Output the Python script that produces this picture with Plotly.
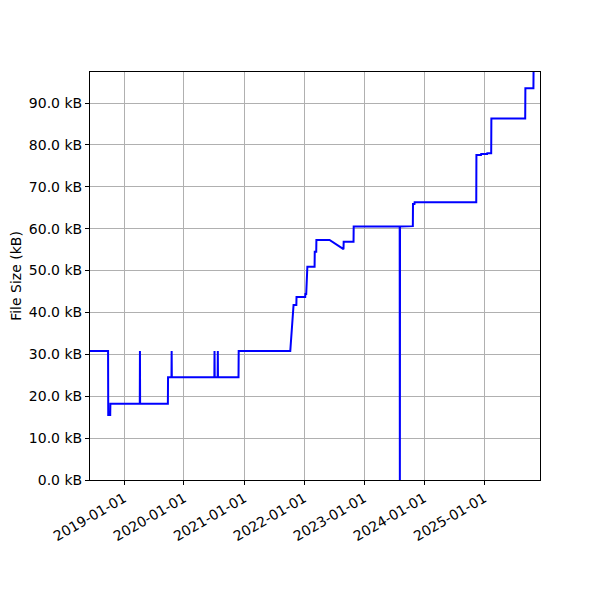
#!/usr/bin/env python3
import plotly.graph_objects as go

# file size history
DATES = [
    "2018-06-08", "2018-09-26", "2018-09-27", "2018-10-09", "2018-10-10",
    "2019-04-07", "2019-04-08", "2019-04-09",
    "2019-09-25", "2019-09-26",
    "2019-10-17", "2019-10-18", "2019-10-19",
    "2020-07-04", "2020-07-05", "2020-07-06",
    "2020-07-24", "2020-07-25", "2020-07-26",
    "2020-11-28", "2020-11-29",
    "2021-10-09", "2021-10-29", "2021-11-15", "2021-11-16",
    "2022-01-08", "2022-01-09", "2022-01-14", "2022-01-20", "2022-01-21",
    "2022-03-06", "2022-03-07", "2022-03-16", "2022-03-17",
    "2022-06-05", "2022-08-25", "2022-08-29", "2022-08-30",
    "2022-10-29", "2022-10-30",
    "2023-08-06", "2023-08-07", "2023-08-08",
    "2023-10-25", "2023-10-26", "2023-11-04", "2023-11-05",
    "2024-11-14", "2024-11-15", "2024-12-13", "2024-12-14",
    "2025-01-19", "2025-01-20", "2025-02-13", "2025-02-14",
    "2025-09-08", "2025-09-09", "2025-10-28", "2025-10-29", "2025-12-07",
]
SIZES_KB = [
    30.8, 30.8, 15.5, 15.5, 18.2,
    18.2, 30.8, 18.2,
    18.2, 24.5,
    24.5, 30.8, 24.5,
    24.5, 30.8, 24.5,
    24.5, 30.8, 24.5,
    24.5, 30.8,
    30.8, 41.8, 41.8, 43.7,
    43.7, 44.4, 44.4, 49.5, 50.9,
    50.9, 54.5, 54.5, 57.3,
    57.3, 55.1, 55.1, 56.9,
    56.9, 60.5,
    60.5, 0.0, 60.5,
    60.6, 65.9, 65.9, 66.3,
    66.3, 77.6, 77.6, 77.8,
    77.8, 78.0, 78.0, 86.3,
    86.3, 93.5, 93.5, 99.0, 99.0,
]

X_TICKS = ["2019-01-01", "2020-01-01", "2021-01-01", "2022-01-01",
           "2023-01-01", "2024-01-01", "2025-01-01"]
Y_TICKS = [0, 10, 20, 30, 40, 50, 60, 70, 80, 90]
Y_TICK_TEXT = [f"{v:.1f} kB" for v in Y_TICKS]

FONT = "DejaVu Sans"
GRID = "#b0b0b0"

fig = go.Figure(
    go.Scatter(
        x=DATES,
        y=SIZES_KB,
        mode="lines",
        line={"color": "#0000ff", "width": 2},
        showlegend=False,
    )
)

axis_common = {
    "showline": True,
    "linecolor": "black",
    "linewidth": 1,
    "mirror": True,
    "ticks": "outside",
    "ticklen": 4,
    "tickcolor": "black",
    "showgrid": True,
    "gridcolor": GRID,
    "gridwidth": 1,
    "zeroline": False,
    "tickfont": {"family": FONT, "size": 14, "color": "black"},
}

fig.update_xaxes(
    type="date",
    range=["2018-06-08", "2025-12-07"],
    tickvals=X_TICKS,
    ticktext=X_TICKS,
    tickangle=-30,
    **axis_common,
)
fig.update_yaxes(
    range=[0, 97.4],
    tickvals=Y_TICKS,
    ticktext=Y_TICK_TEXT,
    title={"text": "File Size (kB)", "font": {"family": FONT, "size": 14, "color": "black"}, "standoff": 8},
    **axis_common,
)

# the page body adds an 8px offset, so the margins are shifted to compensate
fig.update_layout(
    width=600,
    height=600,
    margin={"l": 82, "r": 68, "t": 64, "b": 128, "autoexpand": False},
    plot_bgcolor="white",
    paper_bgcolor="white",
    font={"family": FONT, "size": 14, "color": "black"},
)

fig.write_html("out.html")
